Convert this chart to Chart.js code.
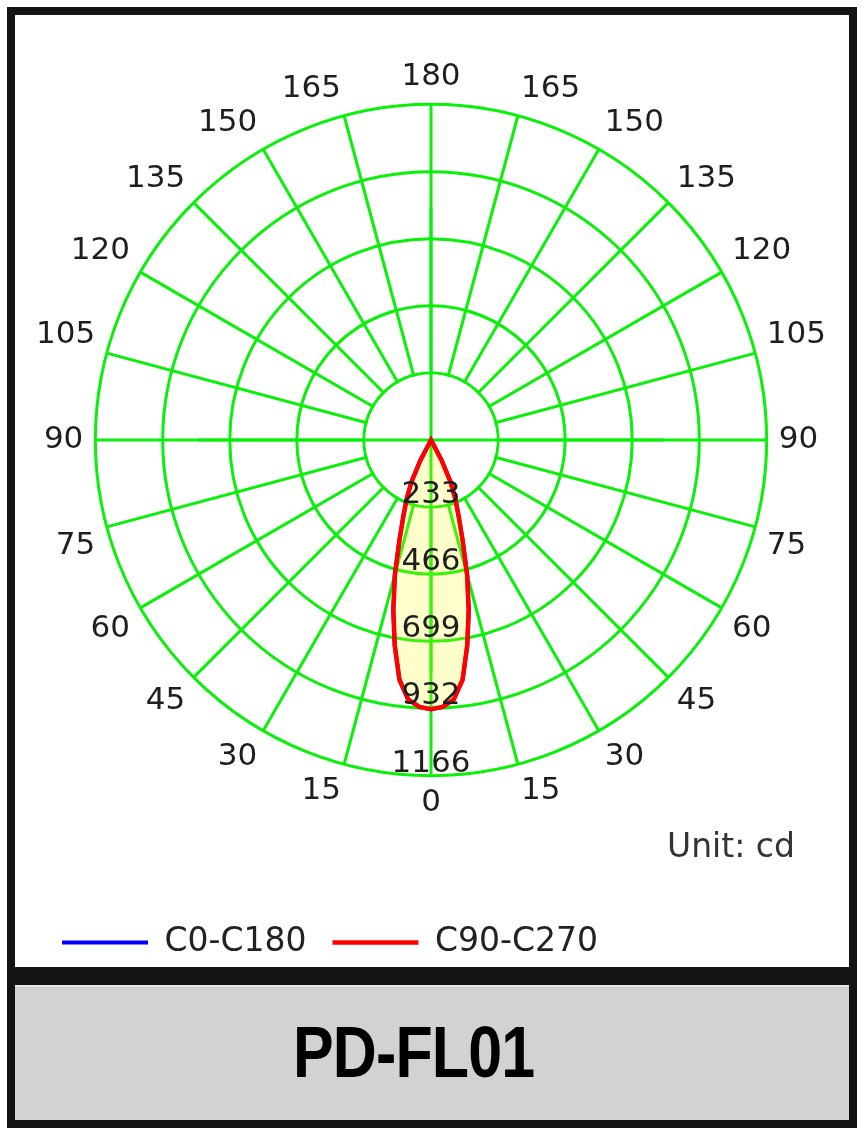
<!DOCTYPE html>
<html>
<head>
<meta charset="utf-8">
<script src="https://cdn.jsdelivr.net/npm/chart.js@4.4.1/dist/chart.umd.min.js"></script>
<style>
  body { margin: 0; width: 865px; height: 1137px; position: relative; overflow: hidden; background: #fff; font-family: "DejaVu Sans", sans-serif; }
  #frame { position: absolute; left: 7px; top: 7px; width: 834px; height: 1105px; border: 8px solid #141414; background: #fff; }
  #bar { position: absolute; left: 0; top: 952px; width: 834px; height: 18px; background: #141414; }
  #namebox { position: absolute; left: 0; top: 970px; width: 834px; height: 133px; background: #d3d2d3; border-top: 2px solid #e6e6e6; }
  #chart { position: absolute; left: 16px; top: 16px; z-index: 1; }
  #unit { position: absolute; left: 667px; top: 829px; font-size: 33px; line-height: 33px; color: #333; z-index: 2; }
  #name { position: absolute; left: 293px; top: 1015px; font-family: "Liberation Sans", sans-serif; font-weight: bold; font-size: 73px; line-height: 73px; color: #000; z-index: 2; transform: scaleX(0.835); transform-origin: 0 0; letter-spacing: -1px; }
</style>
</head>
<body>
<div id="frame"><div id="bar"></div><div id="namebox"></div></div>
<canvas id="chart" width="833" height="953"></canvas>
<div id="unit">Unit: cd</div>
<div id="name">PD-FL01</div>
<script>
// rings of the polar grid (cd)
const ringValues = [233, 466, 699, 932, 1166];
// gamma angles that get a spoke and a label
const gammaLabels = [0, 15, 30, 45, 60, 75, 90, 105, 120, 135, 150, 165, 180];
// measured beam, gamma angle (deg) -> intensity (cd); 0 beyond 30 deg
const beamAngles = [0, 2.5, 5, 7.5, 10, 12.5, 15, 17.5, 20, 22.5, 25, 27.5, 30];
const c0c180 = [935, 928, 905, 840, 725, 605, 485, 365, 280, 220, 160, 80, 0];
const c90c270 = [935, 928, 905, 840, 725, 605, 485, 365, 280, 220, 160, 80, 0];

const STEP = 2.5;
const GREEN = "#0af00a";

// radar goes clockwise from the top: 180 at top, 0 at the bottom
const labels = [];
for (let k = 0; k < 360 / STEP; k++) labels.push(String(Math.abs(180 - k * STEP)));

function spread(values) {
  return labels.map(g => {
    const i = beamAngles.indexOf(+g);
    return i >= 0 ? values[i] : 0;
  });
}
const isMajor = i => gammaLabels.includes(+labels[i]);

const hubPlugin = {
  id: "hub",
  beforeDatasetsDraw(chart) {
    const s = chart.scales.r, ctx = chart.ctx;
    const rad = s.getDistanceFromCenterForValue(ringValues[0]);
    ctx.save();
    ctx.fillStyle = "#fff";
    ctx.beginPath();
    ctx.arc(s.xCenter, s.yCenter, rad - 1.5, 0, Math.PI * 2);
    ctx.fill();
    ctx.strokeStyle = GREEN;
    ctx.lineWidth = 3;
    labels.forEach((g, i) => {
      if (+g % 90 !== 0) return;
      const p = s.getPointPosition(i, ringValues[0]);
      ctx.beginPath();
      ctx.moveTo(s.xCenter, s.yCenter);
      ctx.lineTo(p.x, p.y);
      ctx.stroke();
    });
    ctx.restore();
  },
  afterDatasetsDraw(chart) {
    const s = chart.scales.r, ctx = chart.ctx;
    ctx.save();
    ctx.font = '31px "DejaVu Sans"';
    ctx.fillStyle = "#1e1e1e";
    ctx.textAlign = "center";
    ctx.textBaseline = "alphabetic";
    ringValues.forEach(v => {
      const d = s.getDistanceFromCenterForValue(v);
      ctx.fillText(String(v), s.xCenter, s.yCenter + d - 4);
    });
    ctx.restore();
  }
};

new Chart(document.getElementById("chart"), {
  type: "radar",
  data: {
    labels: labels,
    datasets: [
      {
        label: "C0-C180",
        data: spread(c0c180),
        borderColor: "#0000ff",
        borderWidth: 4,
        fill: false,
        order: 1
      },
      {
        label: "C90-C270",
        data: spread(c90c270),
        borderColor: "#ff0000",
        backgroundColor: "rgba(255,255,0,0.2)",
        borderWidth: 4.5,
        fill: true,
        order: 0
      }
    ]
  },
  options: {
    responsive: false,
    animation: false,
    devicePixelRatio: 1,
    elements: { point: { radius: 0, hitRadius: 0 }, line: { tension: 0 } },
    layout: { padding: { left: 20, right: 23, top: 0, bottom: 0 } },
    scales: {
      r: {
        min: 0,
        max: 1166,
        afterBuildTicks: s => { s.ticks = [0, ...ringValues].map(v => ({ value: v })); },
        ticks: { display: false },
        grid: { circular: true, color: GREEN, lineWidth: 3 },
        angleLines: {
          color: c => isMajor(c.index) ? GREEN : "rgba(0,0,0,0)",
          lineWidth: c => isMajor(c.index) ? 3 : 0
        },
        pointLabels: {
          padding: 12,
          color: "#1e1e1e",
          font: { family: "DejaVu Sans", size: 31, lineHeight: 1 },
          callback: (label) => gammaLabels.includes(+label) ? label : ""
        }
      }
    },
    plugins: {
      tooltip: { enabled: false },
      legend: {
        position: "bottom",
        align: "start",
        title: { display: true, text: "", font: { size: 20, lineHeight: 1 }, padding: { top: 16, bottom: 0 } },
        labels: {
          usePointStyle: true,
          pointStyle: "line",
          pointStyleWidth: 86,
          padding: 26,
          color: "#222",
          font: { family: "DejaVu Sans", size: 33 },
          sort: (a, b) => a.datasetIndex - b.datasetIndex
        }
      }
    }
  },
  plugins: [hubPlugin]
});
</script>
</body>
</html>
